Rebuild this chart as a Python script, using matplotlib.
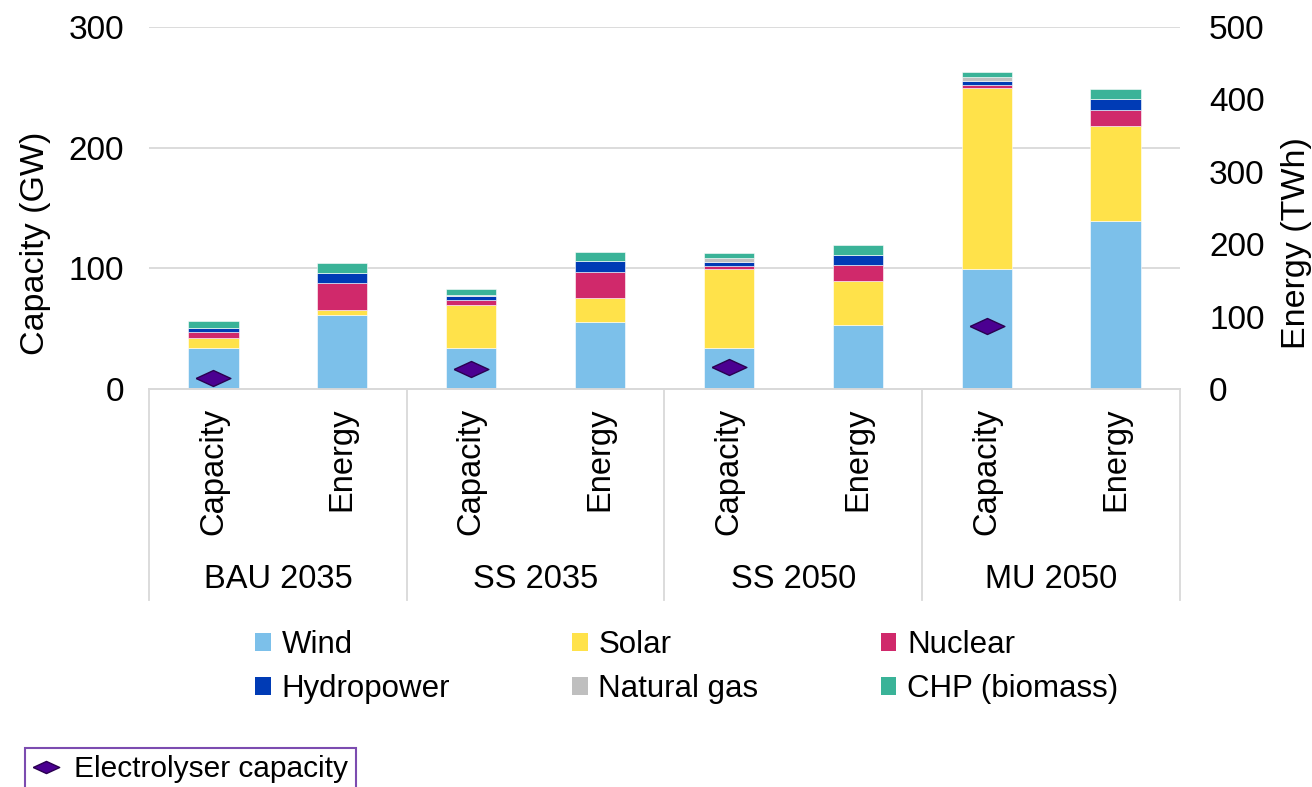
import numpy as np
import matplotlib
matplotlib.use('Agg')
import matplotlib.pyplot as plt
from matplotlib.lines import Line2D
from matplotlib.patches import Patch

plt.rcParams['font.family'] = ['Liberation Sans', 'DejaVu Sans']

# ---- data ----
groups   = ['BAU 2035', 'SS 2035', 'SS 2050', 'MU 2050']
sub_lbls = ['Capacity', 'Energy']
sources  = ['Wind', 'Solar', 'Nuclear', 'Hydropower', 'Natural gas', 'CHP (biomass)']
colors   = ['#7CC0EA', '#FFE24A', '#D0296B', '#003BB5', '#BFBFBF', '#3AB398']

# capacity in GW (left axis)
wind_cap    = [34.2, 34.2, 34.2, 99.5]
solar_cap   = [8.3, 35.2, 65.2, 150.3]
nuclear_cap = [4.5, 4.4, 2.8, 2.2]
hydro_cap   = [3.3, 3.3, 3.0, 3.6]
gas_cap     = [0.4, 0.4, 3.6, 3.3]
chp_cap     = [5.7, 5.6, 3.9, 3.6]

# energy in TWh (right axis)
wind_en    = [102, 92, 88, 232]
solar_en   = [7, 33, 61, 131]
nuclear_en = [37, 37, 22, 23]
hydro_en   = [14, 15, 14, 15]
gas_en     = [0, 0, 0, 0]
chp_en     = [14, 12.5, 13.5, 14]

electrolyser = [9, 16.5, 18, 52.5]

cap_data = [wind_cap, solar_cap, nuclear_cap, hydro_cap, gas_cap, chp_cap]
en_data  = [wind_en, solar_en, nuclear_en, hydro_en, gas_en, chp_en]

W, H = 1312, 787
fig = plt.figure(figsize=(W / 100, H / 100), dpi=100)

# plot area in pixels: x 149..1180, y 27..389
ax = fig.add_axes([149 / W, 1 - 389 / H, (1180 - 149) / W, (389 - 27) / H])
ax2 = ax.twinx()

x_cap = np.arange(len(groups)) * 2
x_en  = x_cap + 1
bw = 0.39

bottom = np.zeros(len(groups))
for vals, c in zip(cap_data, colors):
    ax.bar(x_cap, vals, bw, bottom=bottom, color=c, edgecolor='white', linewidth=0.4, zorder=2)
    bottom += np.array(vals)

bottom = np.zeros(len(groups))
for vals, c in zip(en_data, colors):
    ax2.bar(x_en, vals, bw, bottom=bottom, color=c, edgecolor='white', linewidth=0.4, zorder=2)
    bottom += np.array(vals)

flat_diamond = [(-1, 0), (0, 0.46), (1, 0), (0, -0.46), (-1, 0)]
ax.plot(x_cap, electrolyser, linestyle='none', marker=flat_diamond, markersize=25,
        markerfacecolor='#4B0091', markeredgecolor='#2A0050', markeredgewidth=1, zorder=5)

ax.set_xlim(-0.5, 7.5)
ax.set_ylim(0, 300)
ax2.set_ylim(0, 500)
ax.set_yticks([0, 100, 200, 300])
ax2.set_yticks([0, 100, 200, 300, 400, 500])

grid_c = '#D9D9D9'
ax.yaxis.grid(True, color=grid_c, linewidth=1.3)
ax.set_axisbelow(True)
for a in (ax, ax2):
    for s in ('left', 'right', 'top'):
        a.spines[s].set_visible(False)
    a.spines['bottom'].set_color(grid_c)
    a.spines['bottom'].set_linewidth(1.3)
    a.set_xticks([])
ax.tick_params(axis='y', length=0, pad=18, labelsize=24)
ax2.tick_params(axis='y', length=0, pad=21, labelsize=24)

# category labels and separators below the axis
trans = ax.get_xaxis_transform()
for i in range(len(groups)):
    for j, lbl in enumerate(sub_lbls):
        ax.text(2 * i + j, -19 / 362, lbl, transform=trans, rotation=90,
                ha='center', va='top', fontsize=23.5)
    ax.text(2 * i + 0.5, -(580 - 389) / 362, groups[i], transform=trans,
            ha='center', va='center', fontsize=23.5)
for xs in np.arange(-0.5, 8, 2):
    ax.plot([xs, xs], [0, -(600 - 389) / 362], transform=trans, color=grid_c,
            linewidth=1.3, clip_on=False)

fig.text(36 / W, 1 - 243 / H, 'Capacity (GW)', rotation=90, ha='center', va='center', fontsize=24.5)
fig.text(1281 / W, 1 - 243 / H, 'Energy (TWh)', rotation=90, ha='left', va='center', fontsize=24.5)

# source legend (row-wise order in 3 columns)
handles = [Patch(facecolor=c, edgecolor='none') for c in colors]
order = [0, 3, 1, 4, 2, 5]
fig.legend([handles[k] for k in order], [sources[k] for k in order], ncol=3,
           loc='upper left', bbox_to_anchor=(255 / W, 1 - 630 / H), frameon=False,
           fontsize=22.5, handlelength=0.5, handleheight=0.5, handletextpad=0.35,
           columnspacing=3.9, labelspacing=0.45, borderpad=0, borderaxespad=0)

# electrolyser legend
el_handle = Line2D([], [], linestyle='none', marker=flat_diamond, markersize=19,
                   markerfacecolor='#4B0091', markeredgecolor='#2A0050', markeredgewidth=1)
leg2 = fig.legend([el_handle], ['Electrolyser capacity'], loc='upper left',
                  bbox_to_anchor=(25 / W, 1 - 748 / H), fontsize=21.5, fancybox=False,
                  edgecolor='#5B1F9C', handlelength=0.9, handletextpad=0.5,
                  borderpad=0.25, borderaxespad=0)
leg2.get_frame().set_linewidth(1.5)

fig.savefig('out.png', dpi=100)
